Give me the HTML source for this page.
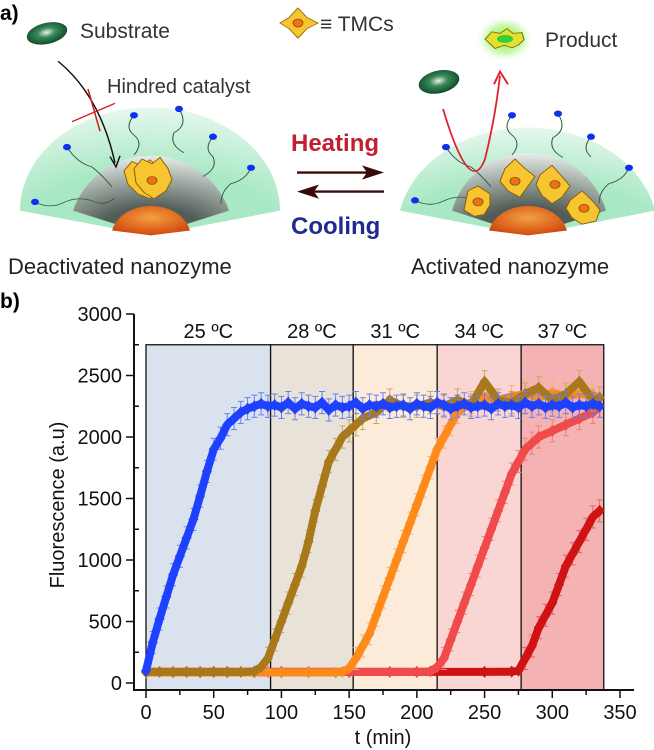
<!DOCTYPE html>
<html><head><meta charset="utf-8">
<style>
html,body{margin:0;padding:0;background:#fff;}
svg{display:block;font-family:"Liberation Sans",sans-serif;}
</style></head>
<body>
<svg id="fig" width="654" height="750" viewBox="0 0 654 750">
<defs>
<radialGradient id="grayG" cx="50%" cy="100%" r="100%"><stop offset="0.35" stop-color="#444"/><stop offset="1" stop-color="#eee"/></radialGradient>
<radialGradient id="coreG" cx="50%" cy="40%" r="60%"><stop offset="0" stop-color="#f5a040"/><stop offset="1" stop-color="#d24a10"/></radialGradient>
<radialGradient id="subG" cx="50%" cy="45%" r="55%"><stop offset="0" stop-color="#e8f5ec"/><stop offset="0.4" stop-color="#3a8a5a"/><stop offset="1" stop-color="#0d4a2a"/></radialGradient>
<radialGradient id="glowG"><stop offset="0" stop-color="#7cf03a"/><stop offset="0.6" stop-color="#b8f590" stop-opacity="0.7"/><stop offset="1" stop-color="#fff" stop-opacity="0"/></radialGradient>
<radialGradient id="greenF" cx="50%" cy="100%" r="100%"><stop offset="0.5" stop-color="#a8e8c4"/><stop offset="1" stop-color="#e6f8ee"/></radialGradient>
</defs>

<!-- panel a -->
<g>
<g transform="scale(1,0.795)">
<ellipse cx="47" cy="42" rx="21" ry="13" transform="rotate(-20 47 42)" fill="url(#subG)"/>
<g><path d="M298 10 L307 22 L318 29 L307 36 L298 48 L289 36 L280 29 L289 22 Z" fill="#f7c531" stroke="#9a6a00" stroke-width="1"/><circle cx="298" cy="29" r="5" fill="#f07018" stroke="#8a3a00" stroke-width="0.8"/></g>
<circle cx="505" cy="49" r="30" fill="url(#glowG)"/>
<path d="M485 49 L492 40 L500 42 L507 36 L513 42 L522 41 L524 50 L518 57 L512 60 L504 57 L495 61 L490 55 Z" fill="#e5e030" stroke="#6a6a00" stroke-width="1"/>
<ellipse cx="505" cy="49" rx="8" ry="5" fill="#30d040"/>

<g>
<path d="M151 296 L20 265 A130 130 0 0 1 280 265 Z" fill="url(#greenF)"/>
<path d="M151 296 L73 265 A82 100 0 0 1 229 265 Z" fill="url(#grayG)" opacity="0.85"/>
<path d="M112 290 A40 40 0 0 1 190 290 L151 296 Z" fill="url(#coreG)"/>
<g stroke="#2a5a3a" fill="none" stroke-width="1">
<path d="M35 254 q15 10 30 0 q15 -8 30 0 q10 5 20 -5"/><path d="M67 185 q10 20 25 25 q10 10 20 25"/><path d="M134 145 q-10 15 0 25 q10 10 0 25"/><path d="M179 137 q10 20 -5 30 q-5 15 10 25"/><path d="M213 172 q-10 15 0 25 q5 15 -10 25"/><path d="M251 211 q-5 15 -20 20 q-10 10 -10 25"/>
</g>
<g fill="#1030f0"><circle cx="35" cy="254" r="4"/><circle cx="67" cy="185" r="4"/><circle cx="134" cy="145" r="4"/><circle cx="179" cy="137" r="4"/><circle cx="213" cy="172" r="4"/><circle cx="251" cy="211" r="4"/></g>
<g fill="#f7c531" stroke="#8a5a00" stroke-width="1">
<path d="M124 215 L132 203 L142 209 L150 201 L160 212 L168 224 L162 240 L150 250 L138 244 L128 232 Z"/>
<path d="M134 212 L142 200 L152 206 L160 198 L168 212 L172 226 L166 240 L154 250 L144 242 L136 230 Z"/>
<circle cx="152" cy="227" r="5" fill="#f07018"/>
</g>
<path d="M58 77 Q100 120 115 205" stroke="#111" stroke-width="1.5" fill="none"/>
<path d="M110 197 L116 210 L120 196" stroke="#111" stroke-width="1.5" fill="none"/>
<path d="M72 153 L115 130 M88 112 L100 165" stroke="#d02020" stroke-width="1.6"/>
</g>

<g>
<path d="M297 217 L378 217" stroke="#3a0a0a" stroke-width="3"/><path d="M384 217 L362 208 L367 217 L362 226 Z" fill="#3a0a0a"/>
<path d="M301 241 L384 241" stroke="#3a0a0a" stroke-width="3"/><path d="M297 241 L319 232 L314 241 L319 250 Z" fill="#3a0a0a"/>
</g>

<g>
<path d="M528 296 L400 265 A130 130 0 0 1 655 265 Z" fill="url(#greenF)"/>
<path d="M528 296 L452 265 A80 100 0 0 1 606 265 Z" fill="url(#grayG)" opacity="0.85"/>
<path d="M489 290 A40 40 0 0 1 567 290 L528 296 Z" fill="url(#coreG)"/>
<g stroke="#2a5a3a" fill="none" stroke-width="1">
<path d="M415 252 q15 10 30 0 q15 -8 30 0"/><path d="M446 185 q10 20 25 25 q10 10 20 25"/><path d="M512 145 q-10 15 0 25 q10 10 0 25"/><path d="M558 143 q10 20 -5 30 q-5 15 10 25"/><path d="M591 172 q-10 15 0 25"/><path d="M629 211 q-5 15 -20 20 q-10 10 -10 25"/>
</g>
<g fill="#1030f0"><circle cx="415" cy="252" r="4"/><circle cx="446" cy="185" r="4"/><circle cx="512" cy="145" r="4"/><circle cx="558" cy="143" r="4"/><circle cx="591" cy="172" r="4"/><circle cx="629" cy="211" r="4"/></g>
<g fill="#f7c531" stroke="#8a5a00" stroke-width="1">
<path d="M468 240 L478 234 L490 244 L490 258 L484 270 L474 272 L464 264 L466 252 Z"/><circle cx="478" cy="254" r="5" fill="#f07018"/>
<path d="M505 212 L515 200 L525 212 L535 222 L528 234 L520 248 L508 240 L500 228 Z"/><circle cx="515" cy="228" r="5" fill="#f07018"/>
<path d="M540 220 L552 208 L562 222 L570 234 L562 248 L552 256 L542 246 L536 232 Z"/><circle cx="555" cy="232" r="5" fill="#f07018"/>
<path d="M570 252 L582 240 L592 252 L600 264 L596 278 L582 282 L572 274 L566 262 Z"/><circle cx="584" cy="262" r="5" fill="#f07018"/>
</g>
<ellipse cx="439" cy="103" rx="21" ry="14" transform="rotate(-20 439 103)" fill="url(#subG)"/>
<path d="M443 137 Q470 250 485 200 Q495 150 500 95" stroke="#e02030" stroke-width="1.8" fill="none"/>
<path d="M494 106 L500 90 L508 106" fill="none" stroke="#e02030" stroke-width="2"/>
</g>
</g>

<text x="0" y="20" font-size="21" font-weight="bold">a)</text>
<text x="80" y="38" font-size="21" fill="#333">Substrate</text>
<text x="320" y="31" font-size="21" fill="#333">≡ TMCs</text>
<text x="545" y="47" font-size="21" fill="#333">Product</text>
<text x="107" y="93" font-size="20" fill="#333">Hindred catalyst</text>
<text x="291" y="151" font-size="24" font-weight="bold" fill="#c02030">Heating</text>
<text x="291" y="234" font-size="24" font-weight="bold" fill="#202a90">Cooling</text>
<text x="8" y="274" font-size="22" fill="#222">Deactivated nanozyme</text>
<text x="411" y="274" font-size="22" fill="#222">Activated nanozyme</text>
</g>

<!-- panel b -->
<text x="0" y="308" font-size="21" font-weight="bold">b)</text>
<g id="chart"></g>
</svg>
<script>
const regionBounds = [0, 92, 153, 215, 277, 338];
const regionLabels = ["25 ºC", "28 ºC", "31 ºC", "34 ºC", "37 ºC"];
const regionColors = ["#dae2ee", "#e9e2d8", "#fcebd8", "#f9d6d3", "#f4b2b3"];
const xTicks = [0, 50, 100, 150, 200, 250, 300, 350];
const yTicks = [0, 500, 1000, 1500, 2000, 2500, 3000];

const t25 = [0,5,10,15,20,25,30,35,40,45,50,55,60,65,70,75,80,85,90,95,100,105,110,115,120,125,130,135,140,145,150,155,160,165,170,175,180,185,190,195,200,205,210,215,220,225,230,235,240,245,250,255,260,265,270,275,280,285,290,295,300,305,310,315,320,325,330,335];
const v25 = [100,330,520,700,880,1030,1180,1330,1520,1720,1900,1990,2100,2150,2200,2230,2250,2270,2250,2260,2240,2280,2230,2270,2250,2240,2280,2220,2260,2240,2250,2280,2230,2260,2250,2270,2240,2250,2260,2230,2270,2250,2240,2280,2260,2230,2250,2270,2240,2250,2260,2230,2270,2250,2260,2240,2280,2250,2270,2240,2260,2250,2280,2240,2260,2250,2270,2250];
const t28 = [0,10,20,30,40,50,60,70,80,85,90,95,100,105,110,115,120,125,130,135,140,145,150,155,160,170,180,190,200,210,220,230,240,250,260,270,280,290,300,310,320,330,335];
const v28 = [90,90,90,90,90,90,90,90,95,130,200,350,500,650,800,950,1150,1400,1600,1800,1900,2000,2050,2100,2150,2200,2300,2250,2250,2280,2250,2300,2260,2450,2300,2280,2350,2400,2300,2350,2450,2300,2320];
const t31 = [0,20,40,60,80,100,120,140,145,150,155,160,165,170,175,180,185,190,195,200,205,210,215,220,225,230,240,250,260,270,280,290,300,310,320,330,335];
const v31 = [85,85,85,85,85,85,85,85,90,120,200,300,400,550,700,850,1000,1150,1300,1450,1600,1750,1900,2000,2100,2200,2280,2320,2300,2330,2350,2320,2360,2330,2350,2340,2320];
const t34 = [0,30,60,90,120,150,180,200,210,215,220,225,230,235,240,245,250,255,260,265,270,275,280,285,290,300,310,320,330,335];
const v34 = [90,90,90,90,90,90,90,90,95,130,200,350,500,650,800,950,1100,1250,1400,1550,1700,1800,1900,1950,2000,2050,2100,2150,2200,2250];
const t37 = [0,50,100,150,200,250,270,275,280,285,290,295,300,305,310,315,320,325,330,335];
const v37 = [90,90,90,90,90,90,92,100,200,300,450,550,650,800,950,1050,1150,1250,1350,1400];

const seriesList = [
  {name:"series-37C", t:t37, v:v37, color:"#d01212", err:"#e86060"},
  {name:"series-34C", t:t34, v:v34, color:"#f04a4a", err:"#f08080"},
  {name:"series-31C", t:t31, v:v31, color:"#ff8a1c", err:"#f8b070"},
  {name:"series-28C", t:t28, v:v28, color:"#a8781a", err:"#c8a860"},
  {name:"series-25C", t:t25, v:v25, color:"#1e40ff", err:"#6a80f0"}
];

const X0 = 146, X1 = 620, Y0 = 683, Y1 = 314;
function xs(t){ return X0 + (X1 - X0) * t / 350; }
function ys(v){ return Y0 - (Y0 - Y1) * v / 3000; }

const NS = "http://www.w3.org/2000/svg";
const chart = document.getElementById("chart");
function mk(tag, attrs, parent){
  const e = document.createElementNS(NS, tag);
  for (const k in attrs) e.setAttribute(k, attrs[k]);
  (parent || chart).appendChild(e);
  return e;
}

for (let i = 0; i < regionLabels.length; i++) {
  const r = mk("rect", {x: xs(regionBounds[i]), y: ys(2750), width: xs(regionBounds[i+1]) - xs(regionBounds[i]), height: ys(0) - ys(2750) + 7, fill: regionColors[i], stroke: "#111", "stroke-width": 1.3});
  
  
  const tx = mk("text", {x: (xs(regionBounds[i]) + xs(regionBounds[i+1])) / 2, y: 338, "font-size": 20, "text-anchor": "middle", fill: "#111"});
  tx.textContent = regionLabels[i];
  
  
}

for (const s of seriesList) {
  const g = mk("g", {});
  
  
  for (let i = 0; i < s.t.length; i++) {
    const x = xs(s.t[i]);
    const e = s.v[i] > 150 ? 90 : 20;
    const eb = mk("path", {d: `M${x} ${ys(s.v[i]+e)} L${x} ${ys(s.v[i]-e)} M${x-3} ${ys(s.v[i]+e)} L${x+3} ${ys(s.v[i]+e)} M${x-3} ${ys(s.v[i]-e)} L${x+3} ${ys(s.v[i]-e)}`, stroke: s.err, "stroke-width": 1, fill: "none"}, g);
    
    
  }
  const pts = s.t.map((t, i) => xs(t) + "," + ys(s.v[i])).join(" ");
  const pl = mk("polyline", {points: pts, fill: "none", stroke: s.color, "stroke-width": 8, "stroke-linejoin": "round", "stroke-linecap": "round"}, g);
  
  
  for (let i = 0; i < s.t.length; i++) {
    const x = xs(s.t[i]), y = ys(s.v[i]);
    const d = mk("path", {d: `M${x} ${y-6} L${x+5} ${y} L${x} ${y+6} L${x-5} ${y} Z`, fill: s.color}, g);
    
    
  }
}

const ax = mk("path", {d: `M134 ${Y1} L134 690 L634 690`, stroke: "#111", "stroke-width": 2, fill: "none"});


for (let v = 0; v <= 3000; v += 250) {
  const major = yTicks.indexOf(v) >= 0;
  const tk = mk("line", {x1: major ? 126 : 134, x2: major ? 134 : 139, y1: ys(v), y2: ys(v), stroke: "#111", "stroke-width": 1.5});
  
  
}
for (const v of yTicks) {
  const tl = mk("text", {x: 122, y: ys(v) + 7, "font-size": 20, "text-anchor": "end", fill: "#111"});
  tl.textContent = v;
  
  
}
for (let t = 0; t <= 350; t += 25) {
  const major = xTicks.indexOf(t) >= 0;
  const tk = mk("line", {x1: xs(t), x2: xs(t), y1: 690, y2: major ? 698 : 695, stroke: "#111", "stroke-width": 1.5});
  
  
}
for (const t of xTicks) {
  const tl = mk("text", {x: xs(t), y: 719, "font-size": 20, "text-anchor": "middle", fill: "#111"});
  tl.textContent = t;
  
  
}
const xt = mk("text", {x: 383, y: 744, "font-size": 20, "text-anchor": "middle", fill: "#111"});
xt.textContent = "t (min)";


const yt = mk("text", {x: 0, y: 0, "font-size": 20, "text-anchor": "middle", fill: "#111", transform: "translate(64 505) rotate(-90)"});
yt.textContent = "Fluorescence (a.u)";


</script>
</body></html>
